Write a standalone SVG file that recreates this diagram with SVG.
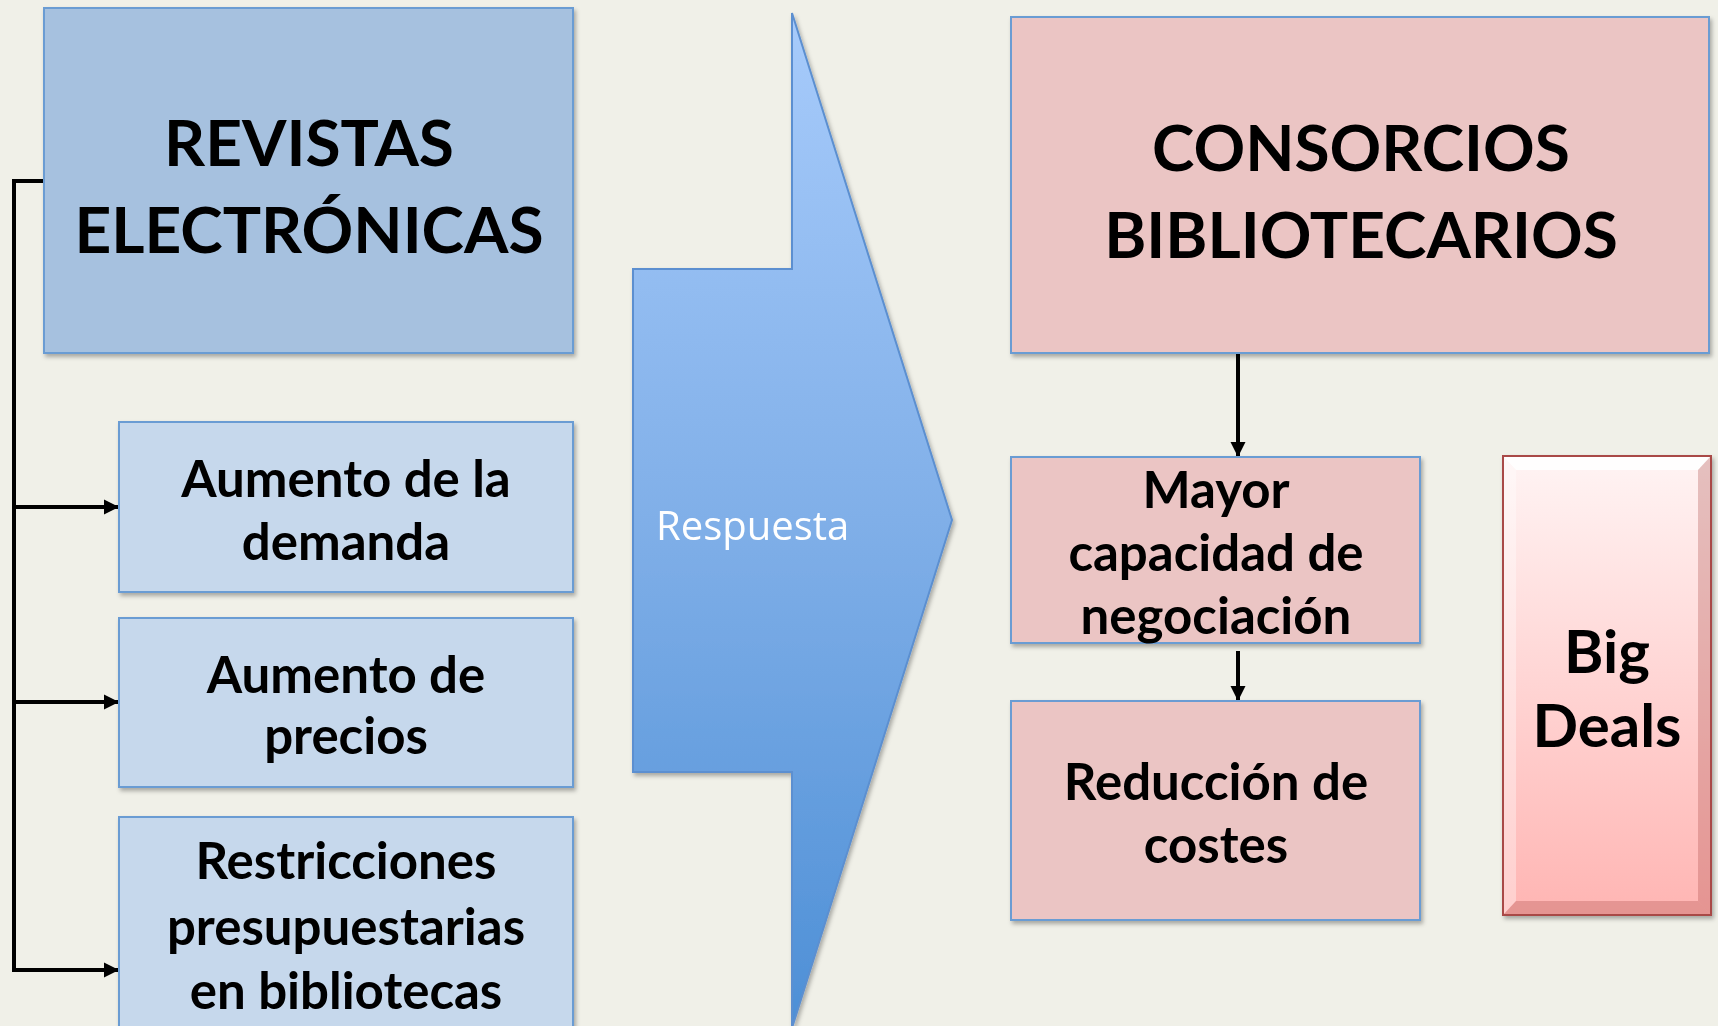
<svg xmlns="http://www.w3.org/2000/svg" width="1718" height="1026" viewBox="0 0 1718 1026">
<style>
.title{font-family:Lato,"Open Sans",sans-serif;font-weight:700;font-size:64px;fill:#000;text-anchor:middle}
.body{font-family:Lato,"Open Sans",sans-serif;font-weight:700;font-size:51px;fill:#000;text-anchor:middle}
.big{font-family:Lato,"Open Sans",sans-serif;font-weight:700;font-size:60px;fill:#000;text-anchor:middle}
.resp{font-family:"Open Sans",Lato,sans-serif;font-size:40px;fill:#fff}
.blue1{fill:#a6c1df;stroke:#6b9cd3;stroke-width:2}
.blue2{fill:#c6d8ec;stroke:#6b9cd3;stroke-width:2}
.pink{fill:#ebc5c4;stroke:#6b9cd3;stroke-width:2}
.conn{stroke:#000;stroke-width:4;fill:none}
</style>
<defs>
<filter id="sh" x="-5%" y="-5%" width="115%" height="115%">
<feDropShadow dx="2" dy="3" stdDeviation="2" flood-color="#000" flood-opacity="0.3"/>
</filter>
<linearGradient id="arrowGrad" x1="0" y1="0" x2="0" y2="1">
<stop offset="0" stop-color="#a7cbfb"/>
<stop offset="0.5" stop-color="#80afe8"/>
<stop offset="1" stop-color="#4d8fd6"/>
</linearGradient>
<linearGradient id="bigGrad" x1="0" y1="0" x2="0" y2="1">
<stop offset="0" stop-color="#fff4f4"/>
<stop offset="1" stop-color="#ffb5b3"/>
</linearGradient>
<marker id="ah" markerUnits="userSpaceOnUse" markerWidth="16" markerHeight="16" refX="15" refY="8" orient="auto">
<path d="M0,0.5 L15,8 L0,15.5 z" fill="#000"/>
</marker>
</defs>
<rect width="1718" height="1026" fill="#f0f0e8"/>

<g id="connectors">
<path class="conn" d="M44,181 L14,181 L14,970"/>
<line class="conn" x1="12" y1="507" x2="119" y2="507" marker-end="url(#ah)"/>
<line class="conn" x1="12" y1="702" x2="119" y2="702" marker-end="url(#ah)"/>
<line class="conn" x1="12" y1="970" x2="119" y2="970" marker-end="url(#ah)"/>
<line class="conn" x1="1238" y1="354" x2="1238" y2="457" marker-end="url(#ah)"/>
<line class="conn" x1="1238" y1="651" x2="1238" y2="701" marker-end="url(#ah)"/>
</g>

<g id="revistas" filter="url(#sh)">
<rect class="blue1" x="44" y="8" width="529" height="345"/>
<text class="title" x="309" y="166">REVISTAS</text>
<text class="title" x="309" y="253">ELECTRÓNICAS</text>
</g>

<g id="demanda" filter="url(#sh)">
<rect class="blue2" x="119" y="422" width="454" height="170"/>
<text class="body" x="346" y="497">Aumento de la</text>
<text class="body" x="346" y="560">demanda</text>
</g>

<g id="precios" filter="url(#sh)">
<rect class="blue2" x="119" y="618" width="454" height="169"/>
<text class="body" x="346" y="693">Aumento de</text>
<text class="body" x="346" y="754">precios</text>
</g>

<g id="restricciones" filter="url(#sh)">
<rect class="blue2" x="119" y="817" width="454" height="220"/>
<text class="body" x="346" y="879">Restricciones</text>
<text class="body" x="346" y="945">presupuestarias</text>
<text class="body" x="346" y="1009">en bibliotecas</text>
</g>

<g id="respuesta" filter="url(#sh)">
<polygon points="633,269 792,269 792,13 952,520 792,1028 792,772 633,772" fill="url(#arrowGrad)" stroke="#5b8fd0" stroke-width="2"/>
<text class="resp" x="656" y="540">Respuesta</text>
</g>

<g id="consorcios" filter="url(#sh)">
<rect class="pink" x="1011" y="17" width="698" height="336"/>
<text class="title" x="1361" y="171">CONSORCIOS</text>
<text class="title" x="1361" y="258">BIBLIOTECARIOS</text>
</g>

<g id="mayor" filter="url(#sh)">
<rect class="pink" x="1011" y="457" width="409" height="186"/>
<text class="body" x="1216" y="508">Mayor</text>
<text class="body" x="1216" y="571">capacidad de</text>
<text class="body" x="1216" y="634">negociación</text>
</g>

<g id="reduccion" filter="url(#sh)">
<rect class="pink" x="1011" y="701" width="409" height="219"/>
<text class="body" x="1216" y="800">Reducción de</text>
<text class="body" x="1216" y="863">costes</text>
</g>

<g id="bigdeals" filter="url(#sh)">
<rect x="1503" y="456" width="208" height="459" fill="url(#bigGrad)" stroke="#a94a46" stroke-width="2"/>
<polygon points="1504,457 1710,457 1698,470 1516,470" fill="#ffffff" opacity="0.9"/>
<polygon points="1504,457 1516,470 1516,901 1504,914" fill="#ffffff" opacity="0.35"/>
<polygon points="1710,457 1698,470 1698,901 1710,914" fill="#a94a46" opacity="0.3"/>
<polygon points="1504,914 1516,901 1698,901 1710,914" fill="#a94a46" opacity="0.3"/>
<text class="big" x="1607" y="673">Big</text>
<text class="big" x="1607" y="747">Deals</text>
</g>
</svg>
